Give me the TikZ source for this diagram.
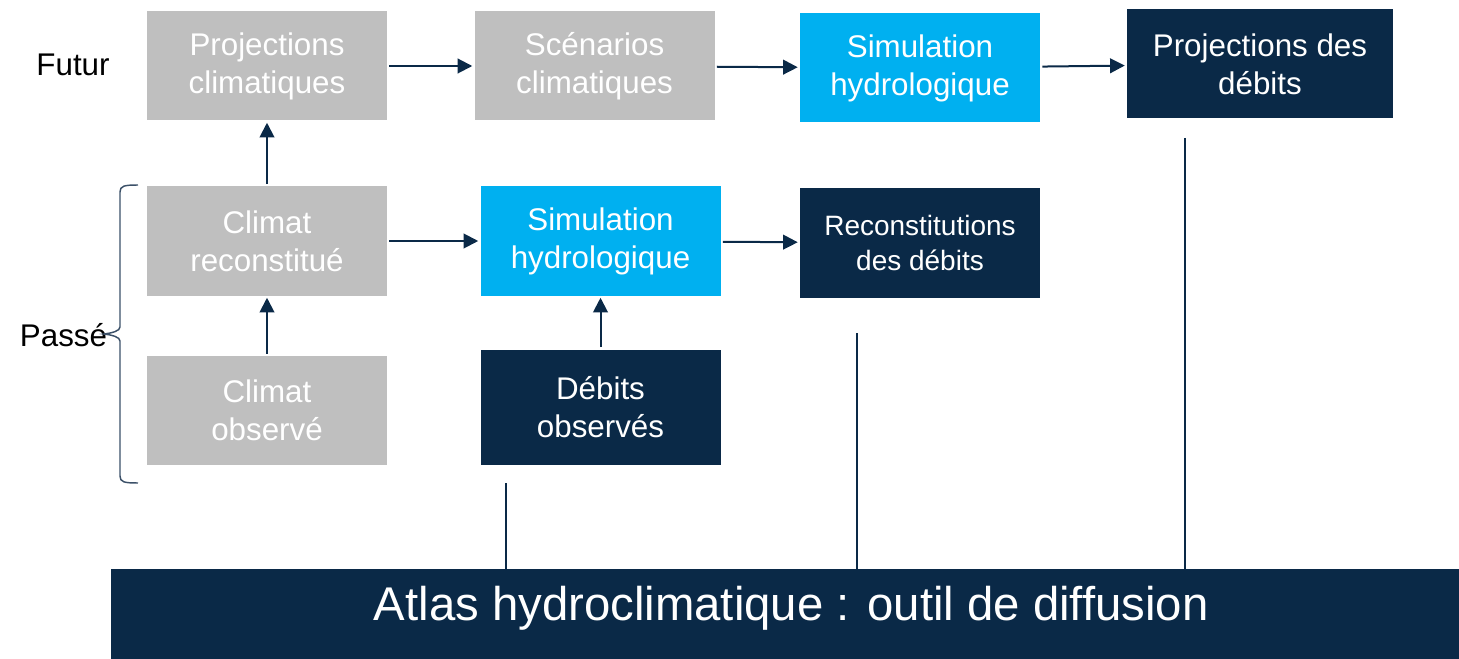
\documentclass[tikz,border=0pt]{standalone}
\usepackage{fontspec}
\setmainfont{Liberation Sans}
\usetikzlibrary{positioning}
\usetikzlibrary{arrows.meta}
\definecolor{climgray}{HTML}{BFBFBF}
\definecolor{simblue}{HTML}{00B0F0}
\definecolor{darknavy}{HTML}{0A2947}
\definecolor{bracegray}{HTML}{3B5068}
\tikzset {
  node distance={65.25pt},
  % every coloured box
  box/.style = {minimum width=180pt, minimum height=81.75pt, inner sep=0pt, align=center, text=white, font=\fontsize{23.5}{28.5}\selectfont},
  % climate data, models and flow results
  climate/.style={box, fill=climgray},
  model/.style={box, fill=simblue},
  output/.style={box, fill=darknavy},
  % arrows between boxes
  flow/.style={darknavy, line width=1.5pt, -{Triangle[length=11pt, width=11pt]}, shorten <=1.5pt, shorten >=1.5pt},
  % plain lines down to the atlas
  feed/.style={darknavy, line width=1.5pt},
  period/.style={font=\fontsize{23.5}{28.5}\selectfont},
}

\begin{document}
\begin{tikzpicture}[x=0.75pt, y=-0.75pt]
  \useasboundingbox (0,0) rectangle (1459,659);

  \node[climate] (pc) at (267,66) {Projections\\climatiques};
  \node[climate, right=of pc] (sc) {Scénarios\\climatiques};
  \node[model] (sh) at (920,68) {Simulation\\hydrologique};
  \node[output, minimum width=199.5pt] (pd) at (1260,64) {Projections des\\débits};

  \node[climate] (cr) at (267,241) {Climat\\reconstitué};
  \node[model] (hm) at (600.5,241) {Simulation\\hydrologique};
  \node[output, font=\fontsize{21}{26}\selectfont] (rd) at (920,243) {Reconstitutions\\des débits};

  \node[climate, below=45pt of cr] (co) {Climat\\observé};
  \node[output, minimum height=86.25pt] (do) at (600.5,407) {Débits\\observés};

  \node[output, anchor=north west, minimum width=1011pt, minimum height=67.5pt, text depth=16.5pt, font=\fontsize{35.5}{40}\selectfont] (atlas) at (111,569) {\hspace*{9pt}Atlas hydroclimatique : outil de diffusion};

  \node[period] (fu) at (73,65) {Futur};
  \node[period] (pa) at (63.5,335) {Passé};
  % brace round the past
  \draw[bracegray, line width=1.1pt] (138,185) .. controls (124,185) and (120,186) .. (120,192) -- (120,327)
    .. controls (120,331) and (112,333) .. (104,334) .. controls (112,335) and (120,337) .. (120,341)
    -- (120,476) .. controls (120,482) and (124,483) .. (138,483);

  \draw[flow] (pc) -- (sc);
  \draw[flow] (sc) -- (sh);
  \draw[flow] (sh) -- (pd);
  \draw[flow] (cr) -- (pc);
  \draw[flow] (co) -- (cr);
  \draw[flow] (cr) -- (hm);
  \draw[flow] (hm) -- (rd);
  \draw[flow] (do) -- (hm);

  \coordinate (fa) at (506,483);
  \coordinate (fb) at (857,333);
  \coordinate (fc) at (1185,138);
  \draw[feed] (fa) -- (fa |- atlas.north);
  \draw[feed] (fb) -- (fb |- atlas.north);
  \draw[feed] (fc) -- (fc |- atlas.north);
\end{tikzpicture}
\end{document}
